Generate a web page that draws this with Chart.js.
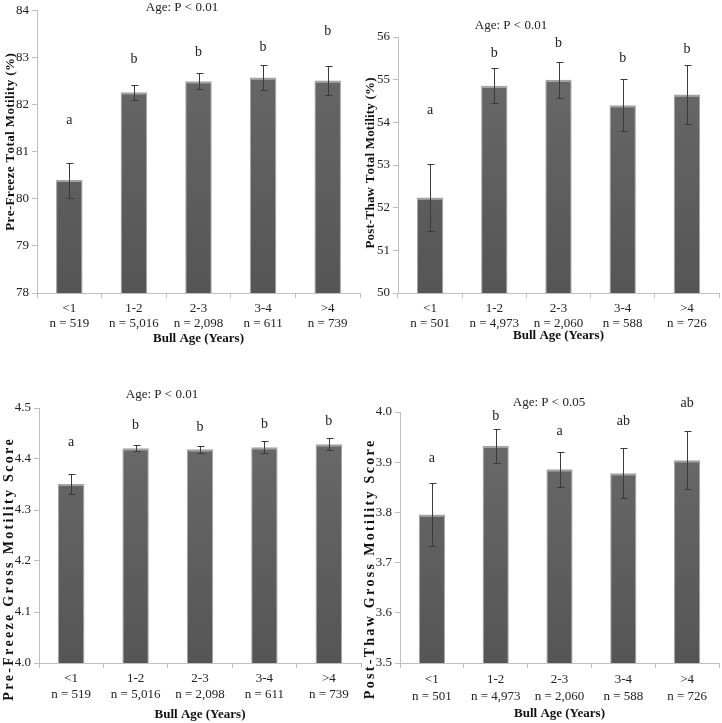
<!DOCTYPE html>
<html>
<head>
<meta charset="utf-8">
<script src="https://cdn.jsdelivr.net/npm/chart.js@4.4.1/dist/chart.umd.min.js"></script>
<style>
  html, body { margin: 0; padding: 0; background: #ffffff; }
  body { width: 722px; height: 723px; position: relative; overflow: hidden; }
  canvas { position: absolute; }
</style>
</head>
<body>
<canvas id="c1" width="363" height="350" style="left:0px;top:0px"></canvas>
<canvas id="c2" width="361" height="350" style="left:361px;top:0px"></canvas>
<canvas id="c3" width="362" height="363" style="left:0px;top:360px"></canvas>
<canvas id="c4" width="361" height="363" style="left:361px;top:360px"></canvas>
<script>
// ---------- DATA ----------
const ageGroups = ["<1", "1-2", "2-3", "3-4", ">4"];
const nPreFreeze = ["n = 519", "n = 5,016", "n = 2,098", "n = 611", "n = 739"];
const nPostThaw = ["n = 501", "n = 4,973", "n = 2,060", "n = 588", "n = 726"];

// Pre-freeze total motility (%)
const preTotalMean = [80.40, 82.27, 82.50, 82.58, 82.52];
const preTotalSem  = [0.37, 0.16, 0.17, 0.27, 0.30];
const preTotalLetters = ["a", "b", "b", "b", "b"];
const preTotalLetterPos = [81.67, 82.97, 83.11, 83.22, 83.57];

// Post-thaw total motility (%)
const postTotalMean = [52.24, 54.86, 55.00, 54.40, 54.65];
const postTotalSem  = [0.78, 0.41, 0.42, 0.61, 0.70];
const postTotalLetters = ["a", "b", "b", "b", "b"];
const postTotalLetterPos = [54.27, 55.62, 55.86, 55.50, 55.72];

// Pre-freeze gross motility score
const preGrossMean = [4.351, 4.421, 4.419, 4.423, 4.429];
const preGrossSem  = [0.020, 0.006, 0.007, 0.012, 0.012];
const preGrossLetters = ["a", "b", "b", "b", "b"];
const preGrossLetterPos = [4.432, 4.466, 4.463, 4.468, 4.473];

// Post-thaw gross motility score
const postGrossMean = [3.796, 3.933, 3.886, 3.878, 3.904];
const postGrossSem  = [0.063, 0.034, 0.035, 0.050, 0.058];
const postGrossLetters = ["a", "b", "a", "ab", "ab"];
const postGrossLetterPos = [3.908, 3.991, 3.962, 3.982, 4.017];

const xAxisTitle = "Bull Age (Years)";

// ---------- STYLE ----------
const SERIF = "'Liberation Serif', 'Times New Roman', serif";
const AXIS_GRAY = '#bfbfbf';

function barGradient(context) {
  const chart = context.chart;
  const area = chart.chartArea;
  if (!area) return '#5f5f5f';
  const g = chart.ctx.createLinearGradient(0, area.top, 0, area.bottom);
  g.addColorStop(0, '#6b6b6b');
  g.addColorStop(1, '#555555');
  return g;
}

// draw text with extra spacing between characters, centred on (0,0)
function spacedText(ctx, text, spacing) {
  const widths = Array.from(text).map(ch => ctx.measureText(ch).width);
  const total = widths.reduce((a, b) => a + b, 0) + spacing * (widths.length - 1);
  let x = -total / 2;
  ctx.textAlign = 'left';
  Array.from(text).forEach((ch, i) => {
    ctx.fillText(ch, x, 0);
    x += widths[i] + spacing;
  });
}

const annotatePlugin = {
  id: 'annotate',
  afterDraw(chart, args, opts) {
    const ctx = chart.ctx;
    const meta = chart.getDatasetMeta(0);
    const ys = chart.scales.y;
    const ds = chart.data.datasets[0];
    ctx.save();
    // error bars
    ctx.strokeStyle = '#3a3a3a';
    ctx.lineWidth = 1;
    meta.data.forEach((bar, i) => {
      const v = ds.data[i], e = opts.sem[i];
      const yTop = Math.round(ys.getPixelForValue(v + e)) + 0.5;
      const yBot = Math.round(ys.getPixelForValue(v - e)) + 0.5;
      const x = Math.round(bar.x) + 0.5;
      ctx.beginPath();
      ctx.moveTo(x, yTop); ctx.lineTo(x, yBot);
      ctx.moveTo(x - 3, yTop); ctx.lineTo(x + 4, yTop);
      ctx.moveTo(x - 3, yBot); ctx.lineTo(x + 4, yBot);
      ctx.stroke();
    });
    // letters
    ctx.fillStyle = '#222';
    ctx.font = "14px " + SERIF;
    ctx.textAlign = 'center';
    ctx.textBaseline = 'middle';
    meta.data.forEach((bar, i) => {
      ctx.fillText(opts.letters[i], bar.x, ys.getPixelForValue(opts.letterPos[i]));
    });
    // panel title
    ctx.font = "13px " + SERIF;
    ctx.fillText(opts.title, opts.titleX, opts.titleY);
    // y-axis title (rotated, letter-spaced)
    ctx.fillStyle = '#111';
    ctx.font = "bold " + opts.yTitleSize + "px " + SERIF;
    ctx.translate(opts.yTitleX, opts.yTitleY);
    ctx.rotate(-Math.PI / 2);
    spacedText(ctx, opts.yTitle, opts.yTitleSpacing);
    ctx.restore();
  }
};

function makeChart(id, cfg) {
  const labels = ageGroups.map((g, i) => [g, cfg.nLabels[i]]);
  return new Chart(document.getElementById(id), {
    type: 'bar',
    data: {
      labels: labels,
      datasets: [{
        data: cfg.mean,
        backgroundColor: barGradient,
        borderColor: '#a3a3a3',
        borderWidth: { top: 2, left: 1, right: 1, bottom: 0 },
        borderSkipped: 'bottom',
        categoryPercentage: 1.0,
        barPercentage: 0.41
      }]
    },
    options: {
      responsive: false,
      animation: false,
      devicePixelRatio: 1,
      layout: { padding: { top: cfg.padTop, right: cfg.padRight, left: 0, bottom: 0 } },
      plugins: {
        legend: { display: false },
        tooltip: { enabled: false },
        annotate: {
          sem: cfg.sem, letters: cfg.letters, letterPos: cfg.letterPos,
          title: cfg.title, titleX: cfg.titleX, titleY: cfg.titleY,
          yTitle: cfg.yTitle, yTitleSize: cfg.yTitleSize, yTitleX: cfg.yTitleX,
          yTitleY: cfg.yTitleY, yTitleSpacing: cfg.yTitleSpacing
        }
      },
      scales: {
        x: {
          grid: { display: true, drawOnChartArea: false, drawTicks: true, tickLength: 5, color: AXIS_GRAY, offset: true },
          border: { display: true, color: AXIS_GRAY },
          ticks: { color: '#222', padding: 3, maxRotation: 0, autoSkip: false,
                   font: { family: SERIF, size: 13, lineHeight: cfg.xLineHeight } },
          title: { display: true, text: xAxisTitle, color: '#111',
                   font: { family: SERIF, size: 13, weight: 'bold', lineHeight: 1.15 },
                   padding: { top: 0, bottom: cfg.xTitlePad } },
          afterFit: (s) => { s.height = cfg.xAxisHeight; }
        },
        y: {
          min: cfg.min, max: cfg.max,
          grid: { display: true, drawOnChartArea: false, drawTicks: true, tickLength: 5, color: AXIS_GRAY },
          border: { display: true, color: AXIS_GRAY },
          ticks: { stepSize: cfg.step, color: '#222', padding: 3,
                   font: { family: SERIF, size: 13 },
                   callback: (v) => cfg.decimals ? Number(v).toFixed(cfg.decimals) : String(Math.round(v)) },
          title: { display: false },
          afterFit: (s) => { s.width = cfg.yAxisWidth; }
        }
      }
    },
    plugins: [annotatePlugin]
  });
}

makeChart('c1', {
  nLabels: nPreFreeze, mean: preTotalMean, sem: preTotalSem,
  letters: preTotalLetters, letterPos: preTotalLetterPos,
  title: "Age: P < 0.01", titleX: 182, titleY: 8,
  min: 78, max: 84, step: 1, decimals: 0,
  yTitle: "Pre-Freeze Total Motility (%)", yTitleSize: 13, yTitleX: 11, yTitleY: 142, yTitleSpacing: 0.4,
  padTop: 7, padRight: 3, yAxisWidth: 37, xAxisHeight: 57, xTitlePad: 4, xLineHeight: 1.15
});
makeChart('c2', {
  nLabels: nPostThaw, mean: postTotalMean, sem: postTotalSem,
  letters: postTotalLetters, letterPos: postTotalLetterPos,
  title: "Age: P < 0.01", titleX: 150, titleY: 26,
  min: 50, max: 56, step: 1, decimals: 0,
  yTitle: "Post-Thaw Total Motility (%)", yTitleSize: 13, yTitleX: 10, yTitleY: 163, yTitleSpacing: 0.2,
  padTop: 37, padRight: 3, yAxisWidth: 37, xAxisHeight: 57, xTitlePad: 7, xLineHeight: 1.15
});
makeChart('c3', {
  nLabels: nPreFreeze, mean: preGrossMean, sem: preGrossSem,
  letters: preGrossLetters, letterPos: preGrossLetterPos,
  title: "Age: P < 0.01", titleX: 162, titleY: 35,
  min: 4.0, max: 4.5, step: 0.1, decimals: 1,
  yTitle: "Pre-Freeze Gross Motility Score", yTitleSize: 14, yTitleX: 9, yTitleY: 210, yTitleSpacing: 2.3,
  padTop: 48, padRight: 1, yAxisWidth: 39, xAxisHeight: 60, xTitlePad: 1, xLineHeight: 1.2
});
makeChart('c4', {
  nLabels: nPostThaw, mean: postGrossMean, sem: postGrossSem,
  letters: postGrossLetters, letterPos: postGrossLetterPos,
  title: "Age: P < 0.05", titleX: 188, titleY: 43,
  min: 3.5, max: 4.0, step: 0.1, decimals: 1,
  yTitle: "Post-Thaw Gross Motility Score", yTitleSize: 14, yTitleX: 9, yTitleY: 210, yTitleSpacing: 2.3,
  padTop: 52, padRight: 3, yAxisWidth: 39, xAxisHeight: 60, xTitlePad: 2, xLineHeight: 1.3
});
</script>
</body>
</html>
